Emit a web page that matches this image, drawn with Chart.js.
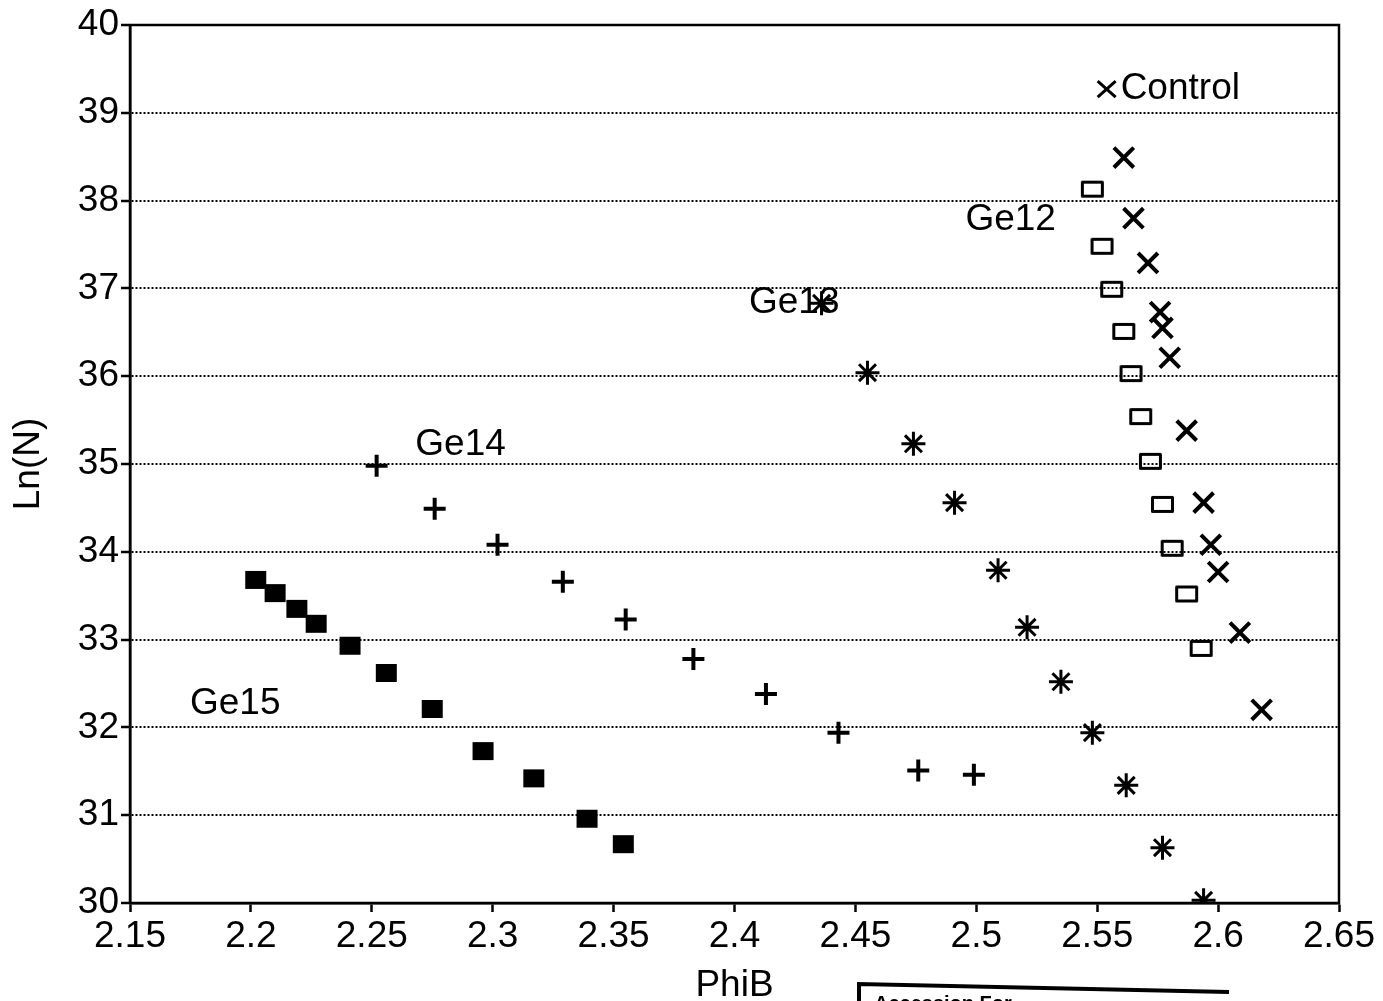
<!DOCTYPE html>
<html>
<head>
<meta charset="utf-8">
<script src="https://cdn.jsdelivr.net/npm/chart.js@4/dist/chart.umd.min.js"></script>
<style>
  html, body { margin: 0; padding: 0; background: #fff; }
  #wrap { width: 1383px; height: 1001px; }
</style>
</head>
<body>
<div id="wrap"><canvas id="chart" width="1383" height="1001"></canvas></div>
<script>
// axis ticks
const xTicks = [2.15, 2.2, 2.25, 2.3, 2.35, 2.4, 2.45, 2.5, 2.55, 2.6, 2.65];
const xTickLabels = ['2.15', '2.2', '2.25', '2.3', '2.35', '2.4', '2.45', '2.5', '2.55', '2.6', '2.65'];
const yTicks = [30, 31, 32, 33, 34, 35, 36, 37, 38, 39, 40];

// series values
const controlX = [2.561, 2.565, 2.571, 2.576, 2.577, 2.580, 2.587, 2.594, 2.597, 2.600, 2.609, 2.618];
const controlY = [38.49, 37.80, 37.29, 36.73, 36.55, 36.21, 35.38, 34.56, 34.08, 33.77, 33.08, 32.20];

const ge12X = [2.548, 2.552, 2.556, 2.561, 2.564, 2.568, 2.572, 2.577, 2.581, 2.587, 2.593];
const ge12Y = [38.13, 37.48, 36.99, 36.51, 36.03, 35.54, 35.03, 34.54, 34.04, 33.52, 32.90];

const ge13X = [2.436, 2.455, 2.474, 2.491, 2.509, 2.521, 2.535, 2.548, 2.562, 2.577, 2.594];
const ge13Y = [36.83, 36.04, 35.23, 34.56, 33.79, 33.14, 32.52, 31.94, 31.34, 30.63, 30.03];

const ge14X = [2.252, 2.276, 2.302, 2.329, 2.355, 2.383, 2.413, 2.443, 2.476, 2.499];
const ge14Y = [34.98, 34.49, 34.08, 33.66, 33.23, 32.78, 32.38, 31.94, 31.51, 31.46];

const ge15X = [2.202, 2.210, 2.219, 2.227, 2.241, 2.256, 2.275, 2.296, 2.317, 2.339, 2.354];
const ge15Y = [33.68, 33.53, 33.35, 33.18, 32.93, 32.62, 32.21, 31.73, 31.42, 30.96, 30.67];

// text labels placed in the plot (data coordinates, left edge of text)
const labelTexts = ['Control', 'Ge12', 'Ge13', 'Ge14', 'Ge15'];
const labelX = [2.5597, 2.4955, 2.4060, 2.2680, 2.1748];
const labelY = [39.27, 37.78, 36.84, 35.22, 32.27];

const FONT = "'Liberation Sans', Arial, sans-serif";

const toPoints = (xs, ys) => xs.map((x, i) => ({ x, y: ys[i] }));

const boxImage = (w, h, filled) => {
  const c = document.createElement('canvas');
  c.width = w + 4;
  c.height = h + 4;
  const g = c.getContext('2d');
  g.strokeStyle = '#000';
  g.fillStyle = '#000';
  g.lineWidth = 3;
  g.lineJoin = 'round';
  if (filled) {
    g.fillRect(2, 2, w, h);
  } else {
    g.strokeRect(3.5, 3.5, w - 3, h - 3);
  }
  return c;
};

const openBox = boxImage(23, 17, false);
const filledBox = boxImage(21, 18, true);

const plotLabels = {
  id: 'plotLabels',
  beforeDatasetsDraw(chart) {
    const { ctx, chartArea, scales } = chart;
    ctx.save();
    // solid frame on top and right
    ctx.strokeStyle = '#000';
    ctx.lineWidth = 2.5;
    ctx.strokeRect(chartArea.left, chartArea.top, chartArea.right - chartArea.left, chartArea.bottom - chartArea.top);
    ctx.fillStyle = '#000';
    ctx.font = `37px ${FONT}`;
    ctx.textBaseline = 'middle';
    ctx.textAlign = 'left';
    labelTexts.forEach((t, i) => {
      ctx.fillText(t, scales.x.getPixelForValue(labelX[i]), scales.y.getPixelForValue(labelY[i]));
    });
    // the x glyph in front of "Control"
    const cx = scales.x.getPixelForValue(labelX[0]) - 14;
    const cy = scales.y.getPixelForValue(labelY[0]);
    ctx.lineWidth = 3;
    ctx.beginPath();
    ctx.moveTo(cx - 9, cy - 8);
    ctx.lineTo(cx + 9, cy + 8);
    ctx.moveTo(cx + 9, cy - 8);
    ctx.lineTo(cx - 9, cy + 8);
    ctx.stroke();
    ctx.restore();
  },
  afterDraw(chart) {
    // scanned stamp cut at the bottom edge
    const { ctx } = chart;
    ctx.save();
    ctx.strokeStyle = '#000';
    ctx.lineWidth = 4;
    ctx.beginPath();
    ctx.moveTo(859, 1001);
    ctx.lineTo(859, 984);
    ctx.lineTo(1229, 992);
    ctx.stroke();
    ctx.fillStyle = '#000';
    ctx.font = `bold 20px ${FONT}`;
    ctx.textBaseline = 'alphabetic';
    ctx.fillText('Accession For', 874, 1010);
    ctx.restore();
  },
};

new Chart(document.getElementById('chart'), {
  type: 'scatter',
  data: {
    datasets: [
      {
        label: 'Control',
        data: toPoints(controlX, controlY),
        pointStyle: 'crossRot',
        pointRadius: 14,
        borderColor: '#000',
        borderWidth: 4,
      },
      {
        label: 'Ge12',
        data: toPoints(ge12X, ge12Y),
        pointStyle: openBox,
        borderColor: '#000',
      },
      {
        label: 'Ge13',
        data: toPoints(ge13X, ge13Y),
        pointStyle: 'star',
        pointRadius: 12,
        borderColor: '#000',
        borderWidth: 3,
      },
      {
        label: 'Ge14',
        data: toPoints(ge14X, ge14Y),
        pointStyle: 'cross',
        pointRadius: 11,
        borderColor: '#000',
        borderWidth: 4,
      },
      {
        label: 'Ge15',
        data: toPoints(ge15X, ge15Y),
        pointStyle: filledBox,
        borderColor: '#000',
      },
    ],
  },
  options: {
    responsive: false,
    animation: false,
    layout: { padding: { top: 25, right: 44, left: 0, bottom: 0 } },
    plugins: {
      legend: { display: false },
      tooltip: { enabled: false },
    },
    scales: {
      x: {
        type: 'linear',
        min: 2.15,
        max: 2.65,
        afterFit: (scale) => { scale.height = 98; },
        afterBuildTicks: (scale) => { scale.ticks = xTicks.map((v) => ({ value: v })); },
        ticks: {
          color: '#000',
          font: { family: FONT, size: 37 },
          padding: 3,
          maxRotation: 0,
          callback: (v, i) => xTickLabels[i],
        },
        grid: {
          drawOnChartArea: false,
          drawTicks: true,
          tickLength: 9,
          tickColor: '#000',
          tickWidth: 2.5,
        },
        border: { display: true, color: '#000', width: 2.5 },
        title: {
          display: true,
          text: 'PhiB',
          color: '#000',
          font: { family: FONT, size: 37, lineHeight: 0.8 },
          padding: { top: 0, bottom: 0 },
        },
      },
      y: {
        type: 'linear',
        min: 30,
        max: 40,
        afterFit: (scale) => { scale.width = 130; },
        afterBuildTicks: (scale) => { scale.ticks = yTicks.map((v) => ({ value: v })); },
        ticks: {
          color: '#000',
          font: { family: FONT, size: 37 },
          padding: 2,
          callback: (v) => String(v),
        },
        grid: {
          color: '#000',
          lineWidth: 2,
          drawTicks: true,
          tickLength: 9,
          tickColor: '#000',
          tickWidth: 2.5,
          tickBorderDash: [],
        },
        border: { display: true, color: '#000', width: 2.5, dash: [2, 2] },
        title: {
          display: true,
          text: 'Ln(N)',
          color: '#000',
          font: { family: FONT, size: 37, lineHeight: 1 },
          padding: { top: 10, bottom: 0 },
        },
      },
    },
  },
  plugins: [plotLabels],
});
</script>
</body>
</html>
